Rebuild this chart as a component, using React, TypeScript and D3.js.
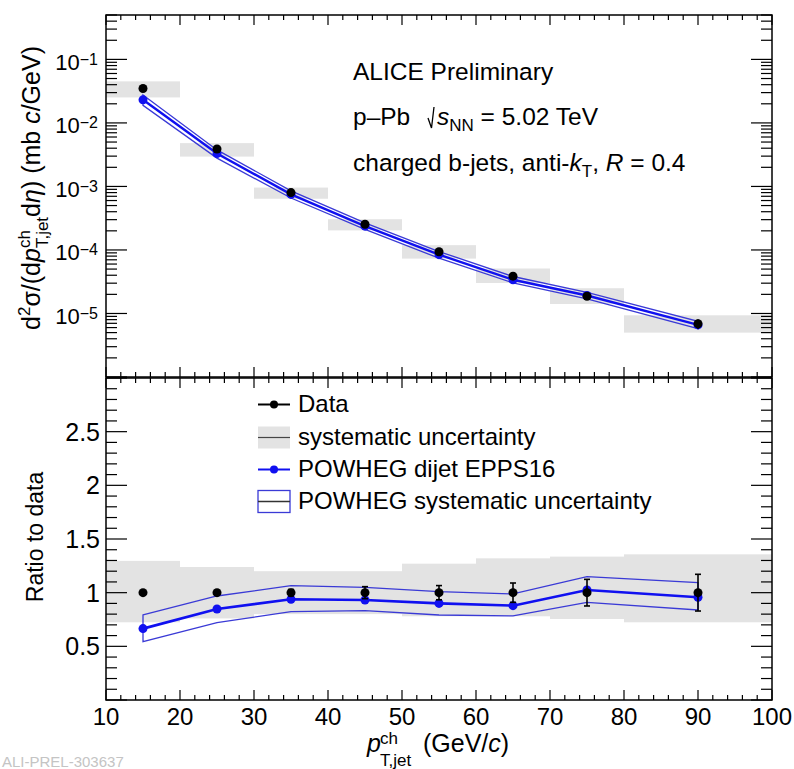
import React from "react";
import * as d3 from "d3";

// ---------- data ----------
const ptCenters = [15, 25, 35, 45, 55, 65, 75, 90];
const binLow = [10, 20, 30, 40, 50, 60, 70, 80];
const binHigh = [20, 30, 40, 50, 60, 70, 80, 100];

const dataXsec = [3.48e-2, 3.88e-3, 8.0e-4, 2.54e-4, 9.37e-5, 3.87e-5, 1.87e-5, 6.9e-6];
const dataStatRel = [0.015, 0.02, 0.03, 0.056, 0.066, 0.09, 0.124, 0.171];
const dataSysUpRel = [0.296, 0.239, 0.2, 0.2, 0.27, 0.32, 0.336, 0.357];
const dataSysDownRel = [0.276, 0.24, 0.2, 0.2, 0.22, 0.22, 0.245, 0.276];
const dataRatio = [1, 1, 1, 1, 1, 1, 1, 1];

const powhegXsec = [2.31e-2, 3.29e-3, 7.5e-4, 2.37e-4, 8.43e-5, 3.4e-5, 1.92e-5, 6.6e-6];
const powhegXsecUp = [2.76e-2, 3.76e-3, 8.52e-4, 2.67e-4, 9.45e-5, 3.82e-5, 2.15e-5, 7.54e-6];
const powhegXsecDown = [1.89e-2, 2.79e-3, 6.58e-4, 2.11e-4, 7.42e-5, 3.03e-5, 1.7e-5, 5.79e-6];

const powhegRatio = [0.665, 0.848, 0.938, 0.932, 0.9, 0.879, 1.025, 0.957];
const powhegRatioUp = [0.792, 0.969, 1.065, 1.05, 1.009, 0.988, 1.149, 1.093];
const powhegRatioDown = [0.543, 0.72, 0.823, 0.832, 0.792, 0.783, 0.91, 0.839];

const xTickValues = [10, 20, 30, 40, 50, 60, 70, 80, 90, 100];
const ratioTickValues = [0.5, 1, 1.5, 2, 2.5];
const ratioTickLabels = ["0.5", "1", "1.5", "2", "2.5"];
const logTickExponents = [-1, -2, -3, -4, -5];

const legendLabels = [
  "Data",
  "systematic uncertainty",
  "POWHEG dijet EPPS16",
  "POWHEG systematic uncertainty",
];

// ---------- style ----------
const FONT = "'Liberation Sans', Arial, Helvetica, sans-serif";
const BLUE = "#1010f0";
const BAND_BLUE = "#3a3ad6";
const GRAY = "#e3e3e3";

const W = 794;
const H = 769;
const X0 = 106;
const X1 = 772;
const TOP_Y0 = 15;
const TOP_Y1 = 377;
const BOT_Y0 = 378;
const BOT_Y1 = 700;

const xScale = d3.scaleLinear().domain([10, 100]).range([X0, X1]);
const yTop = d3.scaleLog().domain([1e-6, 0.5]).range([TOP_Y1, TOP_Y0]);
const yBot = d3.scaleLinear().domain([0, 3]).range([BOT_Y1, BOT_Y0]);

function xTickMarks(y: number, dir: number, key: string) {
  const majors = d3.range(10, 101, 10);
  const minors = d3.range(12, 100, 2).filter((v) => v % 10 !== 0);
  return (
    <g key={key} stroke="#000" strokeWidth={1.2}>
      {majors.map((v) => (
        <line key={"M" + v} x1={xScale(v)} x2={xScale(v)} y1={y} y2={y + dir * 10} />
      ))}
      {minors.map((v) => (
        <line key={"m" + v} x1={xScale(v)} x2={xScale(v)} y1={y} y2={y + dir * 5} />
      ))}
    </g>
  );
}

function yTickMarks(ticks: { v: number; major: boolean }[], scale: (v: number) => number, key: string) {
  return (
    <g key={key} stroke="#000" strokeWidth={1.2}>
      {ticks.map((t, i) => {
        const y = scale(t.v);
        const len = t.major ? 21 : 11;
        return (
          <g key={i}>
            <line x1={X0} x2={X0 + len} y1={y} y2={y} />
            <line x1={X1} x2={X1 - len} y1={y} y2={y} />
          </g>
        );
      })}
    </g>
  );
}

export default function App() {
  const logTicks: { v: number; major: boolean }[] = [];
  for (let e = -6; e <= -1; e++) {
    for (let m = 1; m <= 9; m++) {
      const v = m * Math.pow(10, e);
      if (v <= 0.5 + 1e-12) logTicks.push({ v, major: m === 1 });
    }
  }
  const ratioTicks = d3.range(0, 31).map((i) => ({ v: i / 10, major: i % 5 === 0 }));

  const idx = d3.range(ptCenters.length);

  const lineTop = d3
    .line<number>()
    .x((i) => xScale(ptCenters[i]))
    .y((i) => yTop(powhegXsec[i]));
  const bandTop =
    d3
      .line<[number, number]>()
      .x((d) => xScale(d[0]))
      .y((d) => yTop(d[1]))([
      ...idx.map((i) => [ptCenters[i], powhegXsecUp[i]] as [number, number]),
      ...idx
        .slice()
        .reverse()
        .map((i) => [ptCenters[i], powhegXsecDown[i]] as [number, number]),
    ]) + "Z";

  const lineBot = d3
    .line<number>()
    .x((i) => xScale(ptCenters[i]))
    .y((i) => yBot(powhegRatio[i]));
  const bandBot =
    d3
      .line<[number, number]>()
      .x((d) => xScale(d[0]))
      .y((d) => yBot(d[1]))([
      ...idx.map((i) => [ptCenters[i], powhegRatioUp[i]] as [number, number]),
      ...idx
        .slice()
        .reverse()
        .map((i) => [ptCenters[i], powhegRatioDown[i]] as [number, number]),
    ]) + "Z";

  const legX = 258;
  const legTextX = 298;
  const legBase = [412, 445, 477, 509];

  return (
    <svg
      width={W}
      height={H}
      style={{ position: "absolute", left: 0, top: 0, background: "#fff" }}
      fontFamily={FONT}
    >
      <rect x={0} y={0} width={W} height={H} fill="#fff" />

      {/* ================= TOP PANEL ================= */}
      <g>
        {idx.map((i) => (
          <rect
            key={"sysT" + i}
            x={xScale(binLow[i])}
            width={xScale(binHigh[i]) - xScale(binLow[i])}
            y={yTop(dataXsec[i] * (1 + dataSysUpRel[i]))}
            height={
              yTop(dataXsec[i] * (1 - dataSysDownRel[i])) - yTop(dataXsec[i] * (1 + dataSysUpRel[i]))
            }
            fill={GRAY}
          />
        ))}
        <path d={bandTop} fill="none" stroke={BAND_BLUE} strokeWidth={1.3} />
        <path d={lineTop(idx) || ""} fill="none" stroke={BLUE} strokeWidth={2.4} />
        {idx.map((i) => (
          <circle key={"pT" + i} cx={xScale(ptCenters[i])} cy={yTop(powhegXsec[i])} r={4.5} fill={BLUE} />
        ))}
        {idx.map((i) => {
          const x = xScale(ptCenters[i]);
          const y1 = yTop(dataXsec[i] * (1 + dataStatRel[i]));
          const y2 = yTop(dataXsec[i] * (1 - dataStatRel[i]));
          return (
            <g key={"dT" + i}>
              <line x1={x} x2={x} y1={y1} y2={y2} stroke="#000" strokeWidth={1.5} />
              <circle cx={x} cy={yTop(dataXsec[i])} r={4.5} fill="#000" />
            </g>
          );
        })}
        <rect x={X0} y={TOP_Y0} width={X1 - X0} height={TOP_Y1 - TOP_Y0} fill="none" stroke="#000" strokeWidth={1.5} />
        {xTickMarks(TOP_Y0, 1, "xtT")}
        {xTickMarks(TOP_Y1, -1, "xtB")}
        {yTickMarks(logTicks, (v) => yTop(v), "ytT")}
        {logTickExponents.map((e) => (
          <text key={"ll" + e} x={98} y={yTop(Math.pow(10, e)) + 10.5} textAnchor="end" fontSize={22} fill="#000">
            10
            <tspan dy={-5} fontSize={16}>
              {"\u2212" + Math.abs(e)}
            </tspan>
          </text>
        ))}
        {/* y title */}
        <text transform="translate(40,188) rotate(-90)" textAnchor="middle" fontSize={25} fill="#000">
          <tspan>d</tspan>
          <tspan dy={-10} fontSize={17}>2</tspan>
          <tspan dy={10}>{"\u03c3/(d"}</tspan>
          <tspan fontStyle="italic">p</tspan>
          <tspan dy={-10} fontSize={17}>ch</tspan>
          <tspan dx={-18} dy={18} fontSize={17}>T,jet</tspan>
          <tspan dy={-8}>d</tspan>
          <tspan fontStyle="italic">{"\u03b7"}</tspan>
          <tspan>{") (mb "}</tspan>
          <tspan fontStyle="italic">c</tspan>
          <tspan>/GeV)</tspan>
        </text>
        {/* ALICE text */}
        <text x={353} y={80} fontSize={24.5} fill="#000">
          ALICE Preliminary
        </text>
        <text x={353} y={125} fontSize={24.5} fill="#000">
          {"p\u2013Pb"}
        </text>
        <path d="M 428 118 L 431.5 128 L 434 107" fill="none" stroke="#000" strokeWidth={1.3} />
        <text x={437} y={125} fontSize={24.5} fill="#000">
          <tspan fontStyle="italic">s</tspan>
          <tspan dy={6} fontSize={17}>NN</tspan>
          <tspan dy={-6}>{" = 5.02 TeV"}</tspan>
        </text>
        <text x={353} y={171} fontSize={24.5} fill="#000">
          <tspan>charged b-jets, anti-</tspan>
          <tspan fontStyle="italic">k</tspan>
          <tspan dy={6} fontSize={17}>T</tspan>
          <tspan dy={-6}>, </tspan>
          <tspan fontStyle="italic">R</tspan>
          <tspan>{" = 0.4"}</tspan>
        </text>
      </g>

      {/* ================= BOTTOM PANEL ================= */}
      <g>
        {idx.map((i) => (
          <rect
            key={"sysB" + i}
            x={xScale(binLow[i])}
            width={xScale(binHigh[i]) - xScale(binLow[i])}
            y={yBot(dataRatio[i] + dataSysUpRel[i])}
            height={yBot(dataRatio[i] - dataSysDownRel[i]) - yBot(dataRatio[i] + dataSysUpRel[i])}
            fill={GRAY}
          />
        ))}
        <path d={bandBot} fill="none" stroke={BAND_BLUE} strokeWidth={1.3} />
        <path d={lineBot(idx) || ""} fill="none" stroke={BLUE} strokeWidth={2.6} />
        {idx.map((i) => (
          <circle key={"pB" + i} cx={xScale(ptCenters[i])} cy={yBot(powhegRatio[i])} r={4.5} fill={BLUE} />
        ))}
        {idx.map((i) => {
          const x = xScale(ptCenters[i]);
          const y1 = yBot(dataRatio[i] + dataStatRel[i]);
          const y2 = yBot(dataRatio[i] - dataStatRel[i]);
          return (
            <g key={"dB" + i}>
              <line x1={x} x2={x} y1={y1} y2={y2} stroke="#000" strokeWidth={1.6} />
              <line x1={x - 3} x2={x + 3} y1={y1} y2={y1} stroke="#000" strokeWidth={1.6} />
              <line x1={x - 3} x2={x + 3} y1={y2} y2={y2} stroke="#000" strokeWidth={1.6} />
              <circle cx={x} cy={yBot(dataRatio[i])} r={4.5} fill="#000" />
            </g>
          );
        })}
        <rect x={X0} y={BOT_Y0} width={X1 - X0} height={BOT_Y1 - BOT_Y0} fill="none" stroke="#000" strokeWidth={1.5} />
        {xTickMarks(BOT_Y0, 1, "xbT")}
        {xTickMarks(BOT_Y1, -1, "xbB")}
        {yTickMarks(ratioTicks, (v) => yBot(v), "ybT")}
        {ratioTickValues.map((v, i) => (
          <text key={"rl" + i} x={100} y={yBot(v) + 9} textAnchor="end" fontSize={25} fill="#000">
            {ratioTickLabels[i]}
          </text>
        ))}
        {xTickValues.map((v) => (
          <text key={"xl" + v} x={xScale(v)} y={725} textAnchor="middle" fontSize={24} fill="#000">
            {String(v)}
          </text>
        ))}
        <text transform="translate(43,537) rotate(-90)" textAnchor="middle" fontSize={23} fill="#000">
          Ratio to data
        </text>
        {/* x title */}
        <text x={367} y={752} fontSize={25} fill="#000" fontStyle="italic">
          p
        </text>
        <text x={380} y={744} fontSize={17} fill="#000">
          ch
        </text>
        <text x={380} y={766} fontSize={17} fill="#000">
          T,jet
        </text>
        <text x={423} y={752} fontSize={25} fill="#000">
          <tspan>(GeV/</tspan>
          <tspan fontStyle="italic">c</tspan>
          <tspan>)</tspan>
        </text>

        {/* legend */}
        <g>
          <line x1={legX} x2={legX + 32} y1={legBase[0] - 7.5} y2={legBase[0] - 7.5} stroke="#000" strokeWidth={2} />
          <circle cx={legX + 16} cy={legBase[0] - 7.5} r={4} fill="#000" />
          <rect x={legX} y={legBase[1] - 18.5} width={32} height={22} fill={GRAY} />
          <line x1={legX} x2={legX + 32} y1={legBase[1] - 7.5} y2={legBase[1] - 7.5} stroke="#444" strokeWidth={1.2} />
          <line x1={legX} x2={legX + 32} y1={legBase[2] - 7.5} y2={legBase[2] - 7.5} stroke={BLUE} strokeWidth={2} />
          <circle cx={legX + 16} cy={legBase[2] - 7.5} r={4} fill={BLUE} />
          <rect x={legX} y={legBase[3] - 18.5} width={32} height={22} fill="#fff" stroke={BAND_BLUE} strokeWidth={1.3} />
          <line x1={legX} x2={legX + 32} y1={legBase[3] - 7.5} y2={legBase[3] - 7.5} stroke="#333" strokeWidth={1.5} />
          {legendLabels.map((t, i) => (
            <text key={"lg" + i} x={legTextX} y={legBase[i]} fontSize={24} fill="#000">
              {t}
            </text>
          ))}
        </g>
      </g>

      {/* watermark */}
      <text x={2} y={767} fontSize={15} fill="#c4c4c4">
        ALI-PREL-303637
      </text>
    </svg>
  );
}
